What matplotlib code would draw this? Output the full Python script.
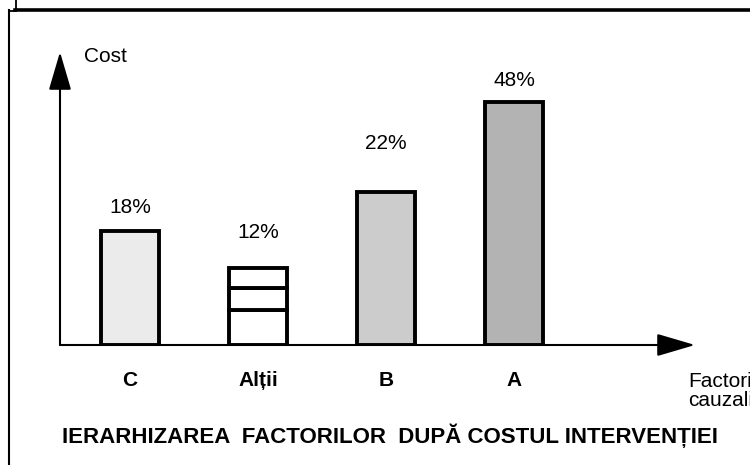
import matplotlib
matplotlib.use("Agg")
import matplotlib.pyplot as plt
from matplotlib.lines import Line2D
import numpy as np

plt.rcParams['font.family'] = ['Liberation Sans', 'DejaVu Sans']

# ---- data ----
categories = ["C", "Alții", "B", "A"]
heights = [11.4, 0.0, 15.3, 24.3]          # bar heights (arbitrary cost units)
altii_segments = [3.5, 2.2, 2.0]           # stacked pieces of the "Alții" bar
pct_labels = ["18%", "12%", "22%", "48%"]
fill_colors = ["#ebebeb", "#ffffff", "#cccccc", "#b3b3b3"]
label_offsets = [14, 26, 39, 12]           # px gap between bar top and its % label

W, H = 750, 465
fig = plt.figure(figsize=(W / 100, H / 100), dpi=100)

def fx(px):
    return px / W
def fy(py):
    return 1 - py / H

# frame decorations
fig.add_artist(Line2D([fx(16), fx(16)], [fy(0), fy(10)], color="black", lw=1.3))
fig.add_artist(Line2D([fx(15), fx(750)], [fy(10), fy(10)], color="black", lw=2.6))
fig.add_artist(Line2D([fx(8.5), fx(16)], [fy(11), fy(11)], color="black", lw=1.3))
fig.add_artist(Line2D([fx(8.5), fx(8.5)], [fy(10.5), fy(465)], color="black", lw=1.5))

# data axes: baseline at y=345px, left at x=60px
ax_left, ax_right, ax_bottom, ax_top = 60, 695, 345, 52
ax = fig.add_axes([fx(ax_left), fy(ax_bottom), (ax_right - ax_left) / W, (ax_bottom - ax_top) / H])
ax.set_xlim(-0.547, 4.414)
ax.set_ylim(0, 29.3)
ax.axis("off")

x = np.arange(len(categories))
bw = 0.45
lw_bar = 2.8
for i, cat in enumerate(categories):
    if cat == "Alții":
        bottom = 0
        for seg in altii_segments:
            ax.bar(x[i], seg, bw, bottom=bottom, color=fill_colors[i], edgecolor="black",
                   linewidth=lw_bar, zorder=3)
            bottom += seg
        top = bottom
    else:
        ax.bar(x[i], heights[i], bw, color=fill_colors[i], edgecolor="black",
               linewidth=lw_bar, zorder=3)
        top = heights[i]
    ax.annotate(pct_labels[i], (x[i], top), xytext=(0, label_offsets[i] * 0.72),
                textcoords="offset points", ha="center", va="bottom", fontsize=15)
    ax.annotate(cat, (x[i], 0), xytext=(0, -35 * 0.72), textcoords="offset points",
                ha="center", va="center", fontsize=15, fontweight="bold")

# axes arrows
arrow = dict(arrowstyle="-|>,head_length=1.7,head_width=0.5", mutation_scale=14,
             color="black", lw=1.5, shrinkA=0, shrinkB=0)
ax.annotate("", xy=(0, 1), xytext=(0, 0), xycoords="axes fraction", arrowprops=arrow,
            annotation_clip=False)
ax.annotate("", xy=(1, 0), xytext=(0, 0), xycoords="axes fraction", arrowprops=arrow,
            annotation_clip=False)

# text labels
fig.text(fx(84), fy(57), "Cost", fontsize=15, ha="left", va="center")
fig.text(fx(688), fy(381), "Factori", fontsize=15, ha="left", va="center")
fig.text(fx(688), fy(400), "cauzali", fontsize=15, ha="left", va="center")
fig.text(fx(62), fy(436), "IERARHIZAREA  FACTORILOR  DUPĂ COSTUL INTERVENȚIEI",
         fontsize=16, fontweight="bold", ha="left", va="center")

fig.savefig("out.png", dpi=100)
